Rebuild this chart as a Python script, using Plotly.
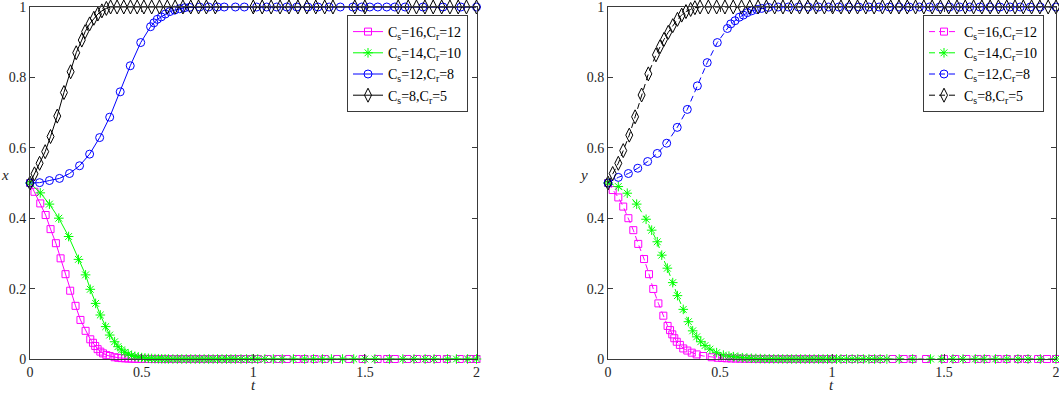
import plotly.graph_objects as go

# ---------------- data ----------------
labels = ["C<sub>s</sub>=16,C<sub>r</sub>=12", "C<sub>s</sub>=14,C<sub>r</sub>=10",
          "C<sub>s</sub>=12,C<sub>r</sub>=8", "C<sub>s</sub>=8,C<sub>r</sub>=5"]
x_ticks = [0, 0.5, 1, 1.5, 2]
y_ticks = [0, 0.2, 0.4, 0.6, 0.8, 1]

# left panel (x)
xm_t = [0, 0.02, 0.046, 0.070, 0.092, 0.116, 0.137, 0.159, 0.180, 0.204,
        0.226, 0.249, 0.270, 0.282, 0.292, 0.303, 0.315, 0.327, 0.342, 0.357,
        0.379, 0.395, 0.41, 0.425, 0.44, 0.455, 0.47, 0.485, 0.50, 0.515,
        0.53, 0.545, 0.56, 0.575, 0.59, 0.61, 0.63, 0.65, 0.67, 0.69,
        0.71, 0.73, 0.75, 0.77, 0.79, 0.81, 0.835, 0.86, 0.885, 0.91,
        0.935, 0.96, 0.99, 1.02, 1.065, 1.11, 1.15, 1.195, 1.23, 1.275,
        1.32, 1.375, 1.43, 1.49, 1.557, 1.60, 1.634, 1.69, 1.733, 1.778,
        1.823, 1.867, 1.925, 1.97, 2.0]
xm_v = [0.5, 0.475, 0.442, 0.409, 0.369, 0.329, 0.286, 0.241, 0.194, 0.151,
        0.111, 0.080, 0.056, 0.046, 0.037, 0.028, 0.021, 0.016, 0.011, 0.0085,
        0.005, 0.0035, 0.0025, 0.0018, 0.0013, 0.0009, 0.0006, 0.0004, 0.0003, 0.0002,
        0.0001, 0.0001, 0, 0, 0, 0, 0, 0, 0, 0,
        0, 0, 0, 0, 0, 0, 0, 0, 0, 0,
        0, 0, 0, 0, 0, 0, 0, 0, 0, 0,
        0, 0, 0, 0, 0, 0, 0, 0, 0, 0,
        0, 0, 0, 0, 0]

xg_t = [0, 0.046, 0.087, 0.129, 0.173, 0.217, 0.249, 0.270, 0.294, 0.315,
        0.339, 0.357, 0.379, 0.394, 0.41, 0.425, 0.44, 0.455, 0.47, 0.485,
        0.50, 0.515, 0.53, 0.545, 0.56, 0.575, 0.59, 0.605, 0.62, 0.64,
        0.66, 0.68, 0.70, 0.72, 0.74, 0.76, 0.78, 0.80, 0.82, 0.84,
        0.86, 0.88, 0.90, 0.92, 0.945, 0.97, 0.995, 1.02, 1.052, 1.09,
        1.13, 1.18, 1.23, 1.27, 1.31, 1.35, 1.40, 1.45, 1.50, 1.545,
        1.61, 1.67, 1.72, 1.77, 1.81, 1.87, 1.91, 1.96, 2.0]
xg_v = [0.5, 0.472, 0.440, 0.400, 0.348, 0.283, 0.239, 0.198, 0.158, 0.125,
        0.092, 0.068, 0.049, 0.035, 0.026, 0.019, 0.014, 0.010, 0.0075, 0.0055,
        0.004, 0.003, 0.002, 0.0015, 0.001, 0.0007, 0.0005, 0.0003, 0.0002, 0.0001,
        0, 0, 0, 0, 0, 0, 0, 0, 0, 0,
        0, 0, 0, 0, 0, 0, 0, 0, 0, 0,
        0, 0, 0, 0, 0, 0, 0, 0, 0, 0,
        0, 0, 0, 0, 0, 0, 0, 0, 0]

xb_t = [0, 0.043, 0.087, 0.132, 0.177, 0.222, 0.267, 0.312, 0.357, 0.404,
        0.449, 0.496, 0.540, 0.555, 0.570, 0.588, 0.606, 0.626, 0.648, 0.670,
        0.693, 0.715, 0.76, 0.80, 0.84, 0.87, 0.92, 0.96, 1.015, 1.06,
        1.105, 1.15, 1.195, 1.245, 1.29, 1.34, 1.39, 1.446, 1.486, 1.522,
        1.558, 1.598, 1.634, 1.68, 1.76, 1.85, 1.93, 2.0]
xb_v = [0.5, 0.501, 0.507, 0.513, 0.527, 0.549, 0.582, 0.629, 0.687, 0.759,
        0.833, 0.899, 0.944, 0.955, 0.965, 0.972, 0.980, 0.987, 0.991, 0.995,
        0.998, 0.999, 1, 1, 1, 1, 1, 1, 1, 1,
        1, 1, 1, 1, 1, 1, 1, 1, 1, 1,
        1, 1, 1, 1, 1, 1, 1, 1]

xk_t = [0, 0.020, 0.043, 0.068, 0.092, 0.122, 0.152, 0.182, 0.207, 0.232,
        0.247, 0.267, 0.286, 0.304, 0.322, 0.342, 0.361, 0.39, 0.42, 0.45,
        0.48, 0.51, 0.545, 0.58, 0.615, 0.65, 0.685, 0.72, 0.755, 0.79,
        0.83, 1.0, 1.04, 1.08, 1.12, 1.16, 1.20, 1.24, 1.28, 1.32,
        1.357, 1.455, 1.50, 1.649, 1.694, 1.731, 1.769, 1.806, 1.844, 1.881,
        1.918, 1.955, 2.0]
xk_v = [0.5, 0.526, 0.556, 0.589, 0.632, 0.690, 0.757, 0.816, 0.870, 0.906,
        0.930, 0.952, 0.968, 0.980, 0.989, 0.996, 1, 1, 1, 1,
        1, 1, 1, 1, 1, 1, 1, 1, 1, 1,
        1, 1, 1, 1, 1, 1, 1, 1, 1, 1,
        1, 1, 1, 1, 1, 1, 1, 1, 1, 1,
        1, 1, 1]

# right panel (y)
ym_t = [0, 0.021, 0.046, 0.068, 0.091, 0.113, 0.135, 0.161, 0.183, 0.202,
        0.225, 0.247, 0.266, 0.277, 0.287, 0.296, 0.307, 0.321, 0.336, 0.354,
        0.374, 0.396, 0.425, 0.463, 0.49, 0.51, 0.53, 0.55, 0.57, 0.59,
        0.61, 0.63, 0.65, 0.67, 0.69, 0.71, 0.73, 0.75, 0.77, 0.79,
        0.81, 0.83, 0.85, 0.87, 0.89, 0.91, 0.93, 0.95, 0.975, 1.0,
        1.05, 1.09, 1.13, 1.18, 1.22, 1.27, 1.32, 1.36, 1.42, 1.50,
        1.55, 1.60, 1.65, 1.69, 1.74, 1.78, 1.83, 1.87, 1.92, 1.96,
        2.0]
ym_v = [0.5, 0.48, 0.459, 0.433, 0.400, 0.366, 0.327, 0.284, 0.241, 0.199,
        0.158, 0.123, 0.094, 0.082, 0.070, 0.059, 0.049, 0.040, 0.030, 0.024,
        0.018, 0.013, 0.0085, 0.005, 0.0035, 0.0027, 0.002, 0.0015, 0.0011, 0.0008,
        0.0006, 0.0004, 0.0003, 0.0002, 0.0001, 0, 0, 0, 0, 0,
        0, 0, 0, 0, 0, 0, 0, 0, 0, 0,
        0, 0, 0, 0, 0, 0, 0, 0, 0, 0,
        0, 0, 0, 0, 0, 0, 0, 0, 0, 0,
        0]

yg_t = [0, 0.046, 0.086, 0.128, 0.170, 0.195, 0.220, 0.240, 0.265, 0.289,
        0.310, 0.336, 0.359, 0.378, 0.396, 0.414, 0.433, 0.455, 0.485, 0.515,
        0.54, 0.56, 0.58, 0.60, 0.62, 0.64, 0.66, 0.68, 0.70, 0.72,
        0.74, 0.76, 0.78, 0.80, 0.82, 0.84, 0.86, 0.88, 0.90, 0.92,
        0.94, 0.96, 0.98, 1.00, 1.02, 1.04, 1.065, 1.09, 1.115, 1.14,
        1.165, 1.19, 1.215, 1.245, 1.30, 1.36, 1.44, 1.49, 1.54, 1.585,
        1.64, 1.68, 1.73, 1.78, 1.83, 1.875, 1.93, 2.0]
yg_v = [0.5, 0.490, 0.471, 0.440, 0.397, 0.366, 0.333, 0.295, 0.258, 0.217,
        0.180, 0.141, 0.106, 0.080, 0.063, 0.049, 0.038, 0.028, 0.018, 0.011,
        0.008, 0.0065, 0.005, 0.0037, 0.0028, 0.002, 0.0015, 0.0011, 0.0008, 0.0006,
        0.0004, 0.0003, 0.0002, 0.0001, 0, 0, 0, 0, 0, 0,
        0, 0, 0, 0, 0, 0, 0, 0, 0, 0,
        0, 0, 0, 0, 0, 0, 0, 0, 0, 0,
        0, 0, 0, 0, 0, 0, 0, 0]

yb_t = [0, 0.046, 0.091, 0.133, 0.177, 0.220, 0.262, 0.309, 0.354, 0.399,
        0.443, 0.488, 0.533, 0.548, 0.567, 0.586, 0.604, 0.622, 0.641, 0.664,
        0.686, 0.716, 0.76, 0.805, 0.85, 0.895, 0.94, 0.985, 1.03, 1.075,
        1.12, 1.165, 1.21, 1.255, 1.30, 1.345, 1.39, 1.435, 1.48, 1.525,
        1.57, 1.615, 1.66, 1.705, 1.75, 1.795, 1.84, 1.885, 1.93, 2.0]
yb_v = [0.5, 0.516, 0.527, 0.542, 0.561, 0.584, 0.613, 0.658, 0.709, 0.776,
        0.842, 0.899, 0.939, 0.952, 0.961, 0.971, 0.977, 0.984, 0.989, 0.993,
        0.996, 0.999, 1, 1, 1, 1, 1, 1, 1, 1,
        1, 1, 1, 1, 1, 1, 1, 1, 1, 1,
        1, 1, 1, 1, 1, 1, 1, 1, 1, 1]

yk_t = [0, 0.021, 0.046, 0.068, 0.095, 0.121, 0.150, 0.180, 0.214, 0.232,
        0.250, 0.269, 0.289, 0.310, 0.329, 0.348, 0.369, 0.388, 0.411, 0.448,
        0.485, 0.522, 0.559, 0.596, 0.633, 0.670, 0.707, 0.744, 0.781, 0.818,
        0.855, 0.892, 0.929, 0.966, 1.003, 1.040, 1.077, 1.114, 1.151, 1.188,
        1.225, 1.262, 1.299, 1.336, 1.373, 1.410, 1.447, 1.484, 1.521, 1.558,
        1.595, 1.632, 1.669, 1.706, 1.743, 1.780, 1.817, 1.854, 1.891, 1.928,
        1.965, 2.0]
yk_v = [0.5, 0.527, 0.556, 0.592, 0.636, 0.688, 0.750, 0.810, 0.864, 0.887,
        0.908, 0.928, 0.947, 0.965, 0.977, 0.987, 0.993, 0.998, 1, 1,
        1, 1, 1, 1, 1, 1, 1, 1, 1, 1,
        1, 1, 1, 1, 1, 1, 1, 1, 1, 1,
        1, 1, 1, 1, 1, 1, 1, 1, 1, 1,
        1, 1, 1, 1, 1, 1, 1, 1, 1, 1,
        1, 1]

# ---------------- styling ----------------
colors = ["#FF00FF", "#00FF00", "#0000FF", "#000000"]
symbols = ["square-open", "asterisk-open", "circle-open", "diamond-tall-open"]
msizes = [7, 8, 8, 10]
FONT = "Liberation Serif"
AX = "#3a3a3a"

fig = go.Figure()

left = [(xm_t, xm_v), (xg_t, xg_v), (xb_t, xb_v), (xk_t, xk_v)]
right = [(ym_t, ym_v), (yg_t, yg_v), (yb_t, yb_v), (yk_t, yk_v)]

for i, (t, v) in enumerate(left):
    fig.add_trace(go.Scatter(
        x=t, y=v, mode="lines+markers", name=labels[i], legend="legend",
        xaxis="x", yaxis="y", cliponaxis=False,
        line=dict(color=colors[i], width=1),
        marker=dict(symbol=symbols[i], size=msizes[i], color=colors[i],
                    line=dict(color=colors[i], width=1))))

for i, (t, v) in enumerate(right):
    fig.add_trace(go.Scatter(
        x=t, y=v, mode="lines+markers", name=labels[i], legend="legend2",
        xaxis="x2", yaxis="y2", cliponaxis=False,
        line=dict(color=colors[i], width=1, dash="6px,4px"),
        marker=dict(symbol=symbols[i], size=msizes[i], color=colors[i],
                    line=dict(color=colors[i], width=1))))

W, H = 1059, 395
ML, MR, MT, MB = 30, 3, 7, 36
PW = W - ML - MR
PH = H - MT - MB
def px(xp):
    return (xp - ML) / PW
def py(yp):
    return (H - MB - yp) / PH

axis_common = dict(range=[0, 2], tickvals=x_ticks, ticks="inside", ticklen=5,
                   tickcolor=AX, showline=True, linecolor=AX, linewidth=1,
                   mirror="ticks", showgrid=False, zeroline=False,
                   ticklabeloverflow="allow", ticklabelstandoff=0,
                   tickfont=dict(family=FONT, size=14, color="#262626"))
yaxis_common = dict(range=[0, 1], tickvals=y_ticks, ticks="inside", ticklen=5,
                    tickcolor=AX, showline=True, linecolor=AX, linewidth=1,
                    mirror="ticks", showgrid=False, zeroline=False,
                    ticklabeloverflow="allow",
                    tickfont=dict(family=FONT, size=14, color="#262626"))

legend_common = dict(font=dict(family=FONT, size=14, color="#000000"),
                     bgcolor="white", bordercolor="#3a3a3a", borderwidth=1,
                     xanchor="left", yanchor="top", tracegroupgap=0,
                     itemclick=False)

ann_font = dict(family=FONT, size=15, color="#262626")
fig.update_layout(
    width=W, height=H, template="none",
    paper_bgcolor="white", plot_bgcolor="white",
    margin=dict(l=ML, r=MR, t=MT, b=MB),
    xaxis=dict(domain=[0, px(476.5)], anchor="y", **axis_common),
    yaxis=dict(domain=[0, 1], anchor="x", **yaxis_common),
    xaxis2=dict(domain=[px(608), 1], anchor="y2", **axis_common),
    yaxis2=dict(domain=[0, 1], anchor="x2", **yaxis_common),
    legend=dict(x=px(347), y=py(15), **legend_common),
    legend2=dict(x=px(923), y=py(15), **legend_common),
    annotations=[
        dict(text="<i>x</i>", x=px(5), y=py(175), xref="paper", yref="paper",
             xanchor="center", yanchor="middle", showarrow=False, font=ann_font),
        dict(text="<i>y</i>", x=px(583), y=py(175), xref="paper", yref="paper",
             xanchor="center", yanchor="middle", showarrow=False, font=ann_font),
        dict(text="<i>t</i>", x=px(253), y=py(395), xref="paper", yref="paper",
             xanchor="center", yanchor="bottom", showarrow=False, font=ann_font),
        dict(text="<i>t</i>", x=px(831), y=py(395), xref="paper", yref="paper",
             xanchor="center", yanchor="bottom", showarrow=False, font=ann_font),
    ],
)

fig.write_html(
    "out.html",
    config={"displayModeBar": False},
    post_script="document.body.style.margin='0';document.body.style.overflow='hidden';",
)
